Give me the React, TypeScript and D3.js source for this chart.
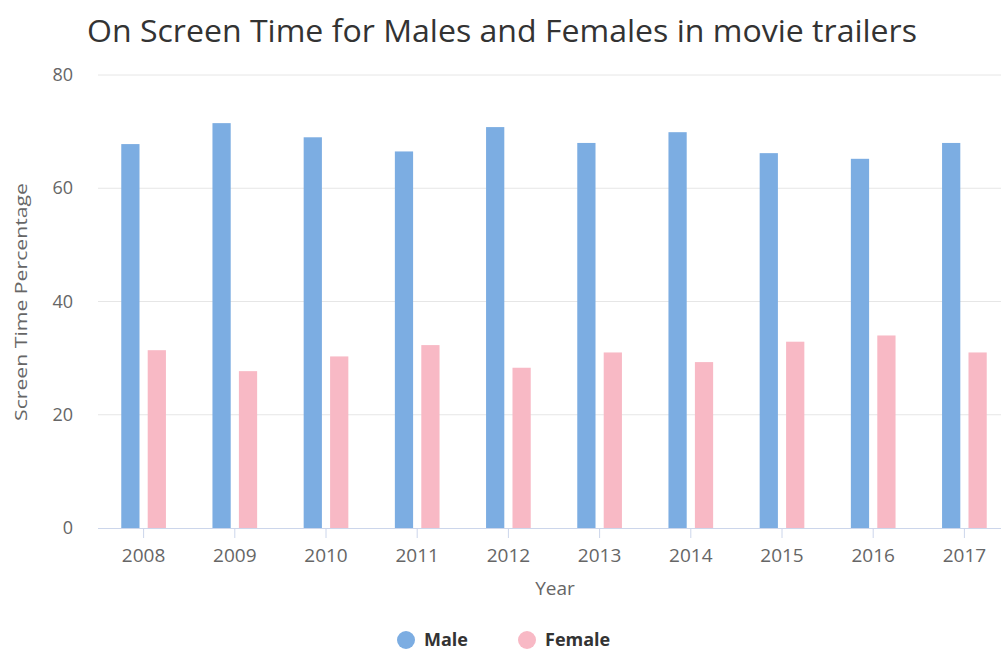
import React from "react";
import * as d3 from "d3";

const years = ["2008", "2009", "2010", "2011", "2012", "2013", "2014", "2015", "2016", "2017"];
const male = [67.8, 71.5, 69.0, 66.5, 70.8, 68.0, 69.9, 66.2, 65.2, 68.0];
const female = [31.4, 27.7, 30.3, 32.3, 28.3, 31.0, 29.3, 32.9, 34.0, 31.0];
const yTicks = [0, 20, 40, 60, 80];
const seriesNames = ["Male", "Female"];
const colors = ["#7cade2", "#f8b9c5"];

export default function App() {
  const W = 1001, H = 654;
  const left = 98, right = 1010, top = 75, bottom = 528;
  const x = d3.scaleBand<string>().domain(years).range([left, right]).paddingInner(0).paddingOuter(0);
  const y = d3.scaleLinear().domain([0, 80]).range([bottom, top]);
  const bw = x.bandwidth();
  const inner = d3.scaleBand<string>().domain(seriesNames).range([0, bw]).paddingInner(0.31).paddingOuter(0.88);
  const font = "'Open Sans', 'DejaVu Sans', sans-serif";
  const series = [male, female];
  return (
    <svg width={W} height={H} style={{ position: "absolute", left: 0, top: 0, background: "#fff" }} fontFamily={font}>
      <rect width={W} height={H} fill="#fff" />
      <text x={502} y={42} textAnchor="middle" fontSize={31} fill="#333" textLength={830} lengthAdjust="spacingAndGlyphs">
        On Screen Time for Males and Females in movie trailers
      </text>
      {yTicks.map((t) => (
        <g key={t}>
          {t > 0 && <line x1={left} x2={right} y1={y(t)} y2={y(t)} stroke="#e6e6e6" strokeWidth={1} />}
          <text x={73} y={y(t) + 6} textAnchor="end" fontSize={18} fill="#666">{t}</text>
        </g>
      ))}
      <line x1={left} x2={right} y1={bottom + 0.5} y2={bottom + 0.5} stroke="#ccd6eb" strokeWidth={1} />
      {years.map((yr) => (
        <g key={yr}>
          <line x1={x(yr)! + bw / 2} x2={x(yr)! + bw / 2} y1={bottom} y2={bottom + 10} stroke="#ccd6eb" />
          <text x={x(yr)! + bw / 2} y={562} textAnchor="middle" fontSize={19} fill="#666">{yr}</text>
        </g>
      ))}
      {series.map((vals, si) =>
        vals.map((v, i) => (
          <rect
            key={`${si}-${i}`}
            x={x(years[i])! + inner(seriesNames[si])!}
            y={y(v)}
            width={inner.bandwidth()}
            height={y(0) - y(v)}
            fill={colors[si]}
          />
        ))
      )}
      <text x={555} y={595} textAnchor="middle" fontSize={19} fill="#666">Year</text>
      <text transform={`translate(27,302) rotate(-90)`} textAnchor="middle" fontSize={17} fill="#666" textLength={238} lengthAdjust="spacingAndGlyphs">
        Screen Time Percentage
      </text>
      {seriesNames.map((n, i) => {
        const lx = i === 0 ? 406 : 527;
        return (
          <g key={n}>
            <circle cx={lx} cy={640} r={9} fill={colors[i]} />
            <text x={lx + 18} y={646} fontSize={18} fontWeight="bold" fill="#333">{n}</text>
          </g>
        );
      })}
    </svg>
  );
}
